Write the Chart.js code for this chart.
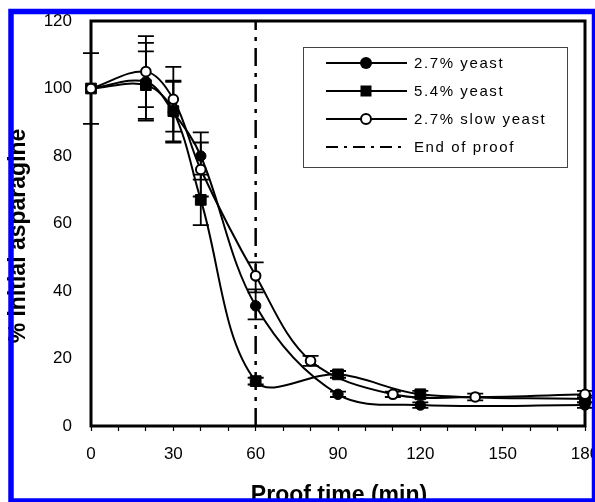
<!DOCTYPE html>
<html>
<head>
<meta charset="utf-8">
<script src="https://cdn.jsdelivr.net/npm/chart.js@4.4.1/dist/chart.umd.min.js"></script>
<style>
  html, body { margin: 0; padding: 0; background: #fff; }
  #wrap { width: 595px; height: 502px; position: relative; }
</style>
</head>
<body>
<div id="wrap"><canvas id="chart" width="595" height="502"></canvas></div>
<script>
// Proof times (min) for the two standard yeast levels
const proofTimes = [0, 20, 30, 40, 60, 90, 120, 180];
// Proof times (min) for the slow yeast
const slowTimes = [0, 20, 30, 40, 60, 80, 110, 140, 180];

// % of initial asparagine remaining
const yeast27 = [100, 102, 93, 80, 35.6, 9.4, 6.2, 6.2];
const yeast54 = [100, 101, 93.3, 67, 13.3, 15.3, 9.4, 8];
const slow27 = [100, 105, 96.8, 76, 44.5, 19.3, 9.4, 8.6, 9.4];

// Standard deviations
const yeast27Err = [0, 11.5, 9, 7, 4, 0.8, 0.8, 0.8];
const yeast54Err = [0, 10, 9, 7.5, 1, 1, 1, 1];
const slow27Err = [10.5, 10.5, 9.6, 8, 4, 1.5, 0.8, 1, 1];

// End of proof marker
const endOfProof = 60;

const seriesNames = ['2.7% yeast', '5.4% yeast', '2.7% slow yeast', 'End of proof'];
const xTicks = [0, 30, 60, 90, 120, 150, 180];
const yTicks = [0, 20, 40, 60, 80, 100, 120];

const toPoints = (xs, ys) => xs.map((x, i) => ({ x, y: ys[i] }));

const errorSets = [
  { t: proofTimes, v: yeast27, err: yeast27Err },
  { t: proofTimes, v: yeast54, err: yeast54Err },
  { t: slowTimes, v: slow27, err: slow27Err }
];

const TICK_FONT = "'Liberation Sans Narrow', 'Arial Narrow', 'Liberation Sans', Arial, sans-serif";
const TEXT_FONT = "'Liberation Sans', Arial, sans-serif";

function setSpacing(ctx, px) {
  if ('letterSpacing' in ctx) ctx.letterSpacing = px + 'px';
}

// Error bars and the plot frame, beneath the series
const errorBarsAndFrame = {
  id: 'errorBarsAndFrame',
  beforeDatasetsDraw(chart) {
    const { ctx, chartArea: a } = chart;
    const xs = chart.scales.x, ys = chart.scales.y;
    ctx.save();
    ctx.strokeStyle = '#000';
    ctx.lineWidth = 1.8;
    errorSets.forEach(s => {
      s.t.forEach((t, i) => {
        const e = s.err[i];
        if (!e) return;
        const px = xs.getPixelForValue(t);
        const top = ys.getPixelForValue(s.v[i] + e);
        const bot = ys.getPixelForValue(s.v[i] - e);
        ctx.beginPath();
        ctx.moveTo(px, top); ctx.lineTo(px, bot);
        ctx.moveTo(px - 8, top); ctx.lineTo(px + 8, top);
        ctx.moveTo(px - 8, bot); ctx.lineTo(px + 8, bot);
        ctx.stroke();
      });
    });
    ctx.lineWidth = 3;
    ctx.strokeRect(a.left, a.top, a.right - a.left, a.bottom - a.top);
    ctx.restore();
  }
};

// Boxed legend with line + marker samples
const boxedLegend = {
  id: 'boxedLegend',
  afterDatasetsDraw(chart) {
    const { ctx } = chart;
    const box = { l: 303, t: 47, r: 567, b: 167 };
    ctx.save();
    ctx.fillStyle = '#fff';
    ctx.fillRect(box.l, box.t, box.r - box.l, box.b - box.t);
    ctx.strokeStyle = '#444';
    ctx.lineWidth = 1;
    ctx.strokeRect(box.l + 0.5, box.t + 0.5, box.r - box.l, box.b - box.t);
    const rows = [63, 91, 119, 147];
    const x0 = 326, x1 = 407, mx = 366;
    rows.forEach((ry, i) => {
      ctx.strokeStyle = '#000';
      ctx.lineWidth = 2;
      ctx.setLineDash(i === 3 ? [12, 6, 3, 6] : []);
      ctx.beginPath();
      ctx.moveTo(x0, ry); ctx.lineTo(x1, ry);
      ctx.stroke();
      ctx.setLineDash([]);
      if (i === 0) {
        ctx.fillStyle = '#000';
        ctx.beginPath(); ctx.arc(mx, ry, 6, 0, Math.PI * 2); ctx.fill();
      } else if (i === 1) {
        ctx.fillStyle = '#000';
        ctx.fillRect(mx - 5.5, ry - 5.5, 11, 11);
      } else if (i === 2) {
        ctx.fillStyle = '#fff';
        ctx.beginPath(); ctx.arc(mx, ry, 5, 0, Math.PI * 2); ctx.fill();
        ctx.lineWidth = 2; ctx.stroke();
      }
      ctx.fillStyle = '#000';
      ctx.font = '15px ' + TEXT_FONT;
      setSpacing(ctx, 1.6);
      ctx.textAlign = 'left';
      ctx.textBaseline = 'middle';
      ctx.fillText(seriesNames[i], 414, ry + 1);
      setSpacing(ctx, 0);
    });
    ctx.restore();
  }
};

// Axis titles and the blue outer border
const titlesAndBorder = {
  id: 'titlesAndBorder',
  afterDraw(chart) {
    const { ctx, chartArea: a } = chart;
    ctx.save();
    ctx.fillStyle = '#000';
    ctx.font = 'bold 23px ' + TEXT_FONT;
    ctx.textAlign = 'center';
    ctx.textBaseline = 'alphabetic';
    ctx.fillText('Proof time (min)', (a.left + a.right) / 2 + 1, 502);
    ctx.translate(25, 236);
    ctx.rotate(-Math.PI / 2);
    ctx.fillText('% initial asparagine', 0, 0);
    ctx.restore();

    ctx.save();
    ctx.strokeStyle = '#0000ff';
    ctx.lineWidth = 5.5;
    ctx.strokeRect(11, 11.5, 583.5, 489.5);
    ctx.restore();
  }
};

const common = {
  borderColor: '#000',
  borderWidth: 2,
  tension: 0.35,
  clip: false,
  fill: false
};

new Chart(document.getElementById('chart'), {
  type: 'line',
  data: {
    datasets: [
      {
        ...common,
        label: seriesNames[0],
        data: toPoints(proofTimes, yeast27),
        pointStyle: 'circle',
        pointRadius: 5.2,
        pointBackgroundColor: '#000',
        pointBorderColor: '#000',
        pointBorderWidth: 1,
        order: 1
      },
      {
        ...common,
        label: seriesNames[1],
        data: toPoints(proofTimes, yeast54),
        pointStyle: 'rect',
        pointRadius: 7.6,
        pointBackgroundColor: '#000',
        pointBorderColor: '#000',
        pointBorderWidth: 1,
        order: 2
      },
      {
        ...common,
        label: seriesNames[2],
        data: toPoints(slowTimes, slow27),
        pointStyle: 'circle',
        pointRadius: 4.8,
        pointBackgroundColor: '#fff',
        pointBorderColor: '#000',
        pointBorderWidth: 2,
        order: 0
      },
      {
        label: seriesNames[3],
        data: [{ x: endOfProof, y: 0 }, { x: endOfProof, y: 120 }],
        borderColor: '#000',
        borderWidth: 2.5,
        borderDash: [18, 7, 4, 7],
        pointRadius: 0,
        tension: 0,
        clip: false,
        order: 5
      }
    ]
  },
  options: {
    responsive: false,
    animation: false,
    devicePixelRatio: 1,
    layout: { padding: { left: 0, top: 21, right: 10, bottom: 0 } },
    plugins: {
      legend: { display: false },
      tooltip: { enabled: false }
    },
    scales: {
      x: {
        type: 'linear',
        min: 0,
        max: 180,
        border: { display: false },
        grid: {
          drawOnChartArea: false,
          drawTicks: true,
          tickLength: 5,
          tickWidth: 1.2,
          tickColor: '#000'
        },
        ticks: {
          stepSize: 10,
          autoSkip: false,
          maxRotation: 0,
          color: '#000',
          padding: 13,
          font: { family: TICK_FONT, size: 17 },
          callback: v => (xTicks.includes(v) ? String(v) : '')
        },
        afterFit(scale) {
          scale.height = 502 - 426;
          scale.paddingLeft = 0;
          scale.paddingRight = 0;
        }
      },
      y: {
        type: 'linear',
        min: 0,
        max: 120,
        border: { display: false },
        grid: { display: false, drawTicks: false },
        ticks: {
          stepSize: 20,
          color: '#000',
          padding: 19,
          font: { family: TICK_FONT, size: 17 },
          callback: v => (yTicks.includes(v) ? String(v) : '')
        },
        afterFit(scale) {
          scale.width = 91;
          scale.paddingTop = 0;
          scale.paddingBottom = 0;
        }
      }
    }
  },
  plugins: [errorBarsAndFrame, boxedLegend, titlesAndBorder]
});
</script>
</body>
</html>
